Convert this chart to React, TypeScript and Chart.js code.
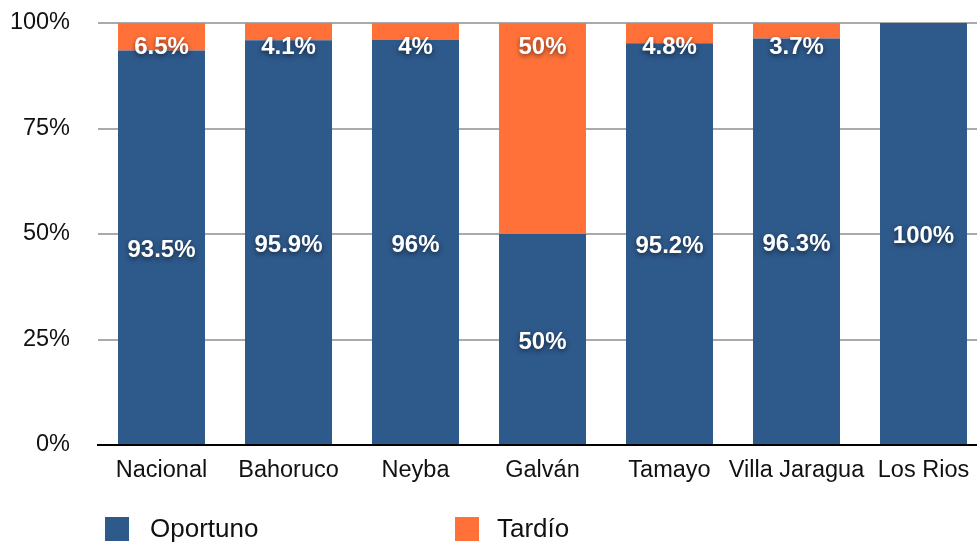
import React, { useEffect, useRef } from "react";
import { Chart, registerables } from "chart.js";

Chart.register(...registerables);

const categories = ["Nacional", "Bahoruco", "Neyba", "Galván", "Tamayo", "Villa Jaragua", "Los Rios"];
const oportuno = [93.5, 95.9, 96, 50, 95.2, 96.3, 100];
const tardio = [6.5, 4.1, 4, 50, 4.8, 3.7, 0];
const yTicks = [0, 25, 50, 75, 100];
const seriesNames = ["Oportuno", "Tardío"];
const colors = ["#2E598B", "#FF7139"];

const FONT = "'Liberation Sans', Arial, Helvetica, sans-serif";

const labelPlugin = {
  id: "segLabels",
  afterDatasetsDraw(chart: any) {
    const ctx = chart.ctx;
    ctx.save();
    ctx.font = `bold 24px ${FONT}`;
    ctx.fillStyle = "#ffffff";
    ctx.textAlign = "center";
    ctx.textBaseline = "middle";
    ctx.shadowColor = "rgba(0,0,0,0.55)";
    ctx.shadowBlur = 5;
    ctx.shadowOffsetY = 2;
    chart.data.datasets.forEach((ds: any, di: number) => {
      const meta = chart.getDatasetMeta(di);
      meta.data.forEach((bar: any, i: number) => {
        const v = ds.data[i];
        if (!v) return;
        const top = Math.min(bar.y, bar.base);
        const bottom = Math.max(bar.y, bar.base);
        const y = di === 0 ? (top + bottom) / 2 + 3 : top + 24;
        ctx.fillText(`${v}%`, bar.x, y);
      });
    });
    ctx.restore();
  },
};

const legendPlugin = {
  id: "bottomLegend",
  afterDraw(chart: any) {
    const ctx = chart.ctx;
    ctx.save();
    const items = [
      { x: 105, tx: 150 },
      { x: 455, tx: 497 },
    ];
    items.forEach((it, i) => {
      ctx.fillStyle = colors[i];
      ctx.fillRect(it.x, 517, 24, 24);
      ctx.fillStyle = "#111111";
      ctx.font = `26px ${FONT}`;
      ctx.textAlign = "left";
      ctx.textBaseline = "alphabetic";
      ctx.fillText(seriesNames[i], it.tx, 537);
    });
    ctx.restore();
  },
};

export default function App() {
  const ref = useRef<HTMLCanvasElement>(null);
  useEffect(() => {
    if (!ref.current) return;
    const chart = new Chart(ref.current, {
      type: "bar",
      data: {
        labels: categories,
        datasets: [
          { label: seriesNames[0], data: oportuno, backgroundColor: colors[0], borderWidth: 0 },
          { label: seriesNames[1], data: tardio, backgroundColor: colors[1], borderWidth: 0 },
        ],
      },
      options: {
        responsive: false,
        animation: false,
        layout: { padding: { top: 0, right: 13, left: 0, bottom: 0 } },
        plugins: { legend: { display: false }, tooltip: { enabled: false } },
        datasets: { bar: { categoryPercentage: 1, barPercentage: 0.685 } },
        scales: {
          x: {
            stacked: true,
            grid: { display: false, drawTicks: false },
            border: { display: true, color: "#000000", width: 2 },
            ticks: { color: "#111111", font: { family: FONT, size: 23.5 }, padding: 11, maxRotation: 0, autoSkip: false },
            afterFit: (s: any) => { s.height = 97; },
          },
          y: {
            stacked: true,
            min: 0,
            max: 100,
            afterBuildTicks: (s: any) => { s.ticks = yTicks.map((v) => ({ value: v })); },
            grid: {
              drawTicks: false,
              color: (c: any) => (c.tick && c.tick.value === 0 ? "#000000" : "#AAAAAA"),
              lineWidth: 2,
            },
            border: { display: false },
            ticks: {
              color: "#111111",
              font: { family: FONT, size: 23.5 },
              padding: 28,
              callback: (v: any) => `${v}%`,
            },
            afterFit: (s: any) => { s.width = 98; s.paddingTop = 23; s.paddingBottom = 0; },
          },
        },
      },
      plugins: [labelPlugin, legendPlugin],
    });
    return () => chart.destroy();
  }, []);
  return (
    <div style={{ position: "fixed", left: 0, top: 0, width: 977, height: 542, overflow: "hidden", background: "#fff" }}>
      <canvas ref={ref} width={1000} height={542} style={{ width: 1000, height: 542, display: "block" }} />
    </div>
  );
}
